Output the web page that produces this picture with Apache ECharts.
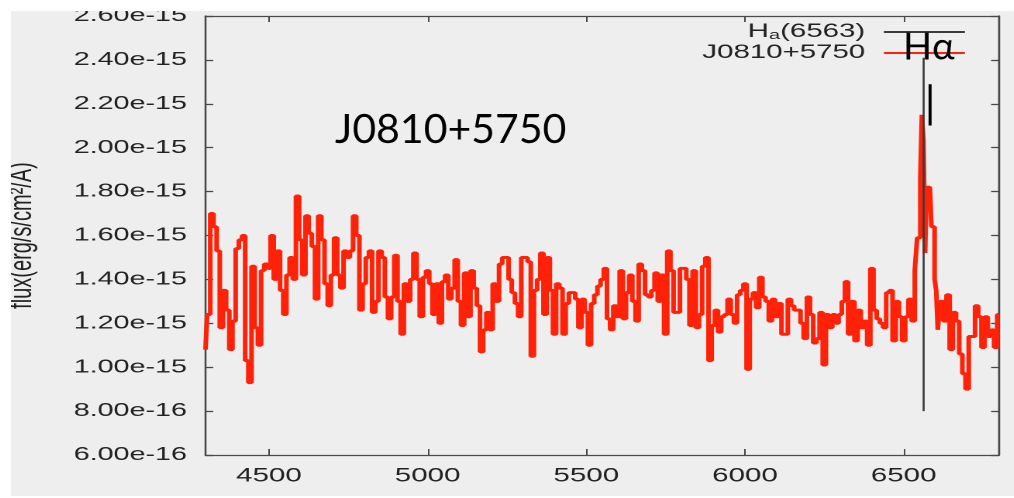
<!DOCTYPE html>
<html>
<head>
<meta charset="utf-8">
<script src="https://cdn.jsdelivr.net/npm/echarts@6/dist/echarts.min.js"></script>
<style>
  html, body { margin: 0; padding: 0; background: #ffffff; width: 1014px; height: 498px; overflow: hidden; }
  #frame { position: absolute; left: 11px; top: 11px; width: 1003px; height: 485px; background: #eeeeee; overflow: hidden; }
  #chart { position: absolute; left: 0; top: 0; height: 485px; transform-origin: 0 0; }
</style>
</head>
<body>
<div id="frame"><div id="chart"></div></div>
<script>
// Horizontal stretch of the gnuplot-style panel (text and lines are widened on the x direction)
const STRETCH = 1.55;
const FRAME_WIDTH = 1003;

// Flux values are stored in units of 1e-15 erg/s/cm^2/A
const FLUX_UNIT = 1e-15;

// Axis ranges and tick labels
const xMin = 4300, xMax = 6800;
const xTickValues = [4500, 5000, 5500, 6000, 6500];
const yMin = 0.6, yMax = 2.6, yStep = 0.2;

// Spectrum of J0810+5750, blue side: 4300..6540 A, 10 A bins
const blueStart = 4300, blueStep = 10;
const fluxBlue = [
  1.08, 1.24, 1.70, 1.64, 1.53, 1.18, 1.35, 1.26, 1.08, 1.21,
  1.54, 1.58, 1.60, 1.03, 0.93, 1.46, 1.18, 1.10, 1.44, 1.47,
  1.45, 1.60, 1.40, 1.53, 1.35, 1.24, 1.42, 1.50, 1.40, 1.78,
  1.58, 1.42, 1.69, 1.61, 1.55, 1.31, 1.69, 1.58, 1.38, 1.28,
  1.42, 1.59, 1.42, 1.36, 1.53, 1.50, 1.53, 1.69, 1.60, 1.26,
  1.38, 1.50, 1.53, 1.25, 1.30, 1.53, 1.50, 1.32, 1.22, 1.32,
  1.51, 1.30, 1.15, 1.38, 1.30, 1.40, 1.52, 1.40, 1.23, 1.41,
  1.44, 1.38, 1.24, 1.38, 1.20, 1.39, 1.42, 1.31, 1.36, 1.49,
  1.30, 1.19, 1.43, 1.23, 1.44, 1.36, 1.28, 1.07, 1.17, 1.25,
  1.17, 1.38, 1.30, 1.47, 1.50, 1.50, 1.40, 1.34, 1.29, 1.23,
  1.50, 1.50, 1.48, 1.05, 1.35, 1.40, 1.52, 1.24, 1.50, 1.35,
  1.15, 1.38, 1.36, 1.15, 1.29, 1.34, 1.34, 1.31, 1.18, 1.31,
  1.25, 1.10, 1.29, 1.33, 1.37, 1.40, 1.45, 1.22, 1.17, 1.28,
  1.23, 1.44, 1.22, 1.34, 1.42, 1.30, 1.21, 1.47, 1.44, 1.33,
  1.32, 1.35, 1.43, 1.30, 1.42, 1.15, 1.53, 1.44, 1.25, 1.25,
  1.45, 1.45, 1.40, 1.19, 1.44, 1.18, 1.24, 1.46, 1.50, 1.03,
  1.19, 1.26, 1.16, 1.23, 1.24, 1.31, 1.24, 1.20, 1.33, 1.35,
  1.38, 0.99, 1.31, 1.34, 1.27, 1.41, 1.32, 1.30, 1.21, 1.31,
  1.23, 1.29, 1.15, 1.15, 1.31, 1.28, 1.26, 1.26, 1.20, 1.13,
  1.32, 1.24, 1.11, 1.13, 1.25, 1.01, 1.24, 1.18, 1.24, 1.20,
  1.24, 1.30, 1.39, 1.15, 1.30, 1.12, 1.26, 1.18, 1.21, 1.10,
  1.45, 1.26, 1.22, 1.20, 1.18, 1.34, 1.35, 1.12, 1.30, 1.23,
  1.12, 1.23, 1.31, 1.21, 1.44
];

// H-alpha emission region: 6545..6605 A, 5 A bins
const lineStart = 6545, lineStep = 5;
const fluxLine = [1.59, 1.59, 1.87, 2.15, 2.03, 1.52, 1.82, 1.82, 1.82, 1.64, 1.64, 1.40, 1.35];

// Red side: 6610..6800 A, 10 A bins
const redStart = 6610, redStep = 10;
const fluxRed = [
  1.17, 1.30, 1.21, 1.33, 1.08, 1.25, 1.21, 1.06, 0.97, 0.90,
  1.14, 1.14, 1.28, 1.23, 1.09, 1.23, 1.14, 1.17, 1.09, 1.24
];

// Rest wavelength marker for H-alpha
const halphaWave = 6563;
const halphaFlux = [0.8, 2.41];

const objectName = 'J0810+5750';
const markerName = 'Ha(6563)';

function segment(start, step, values) {
  return values.map((v, i) => [start + i * step, v]);
}
const spectrum = [].concat(
  segment(blueStart, blueStep, fluxBlue),
  segment(lineStart, lineStep, fluxLine),
  segment(redStart, redStep, fluxRed)
);
const marker = halphaFlux.map(f => [halphaWave, f]);

const chartWidth = FRAME_WIDTH / STRETCH;
const el = document.getElementById('chart');
el.style.width = chartWidth + 'px';
el.style.transform = 'scaleX(' + STRETCH + ')';

const chart = echarts.init(el, null, { renderer: 'canvas', devicePixelRatio: 2 });

// x inside the frame -> unstretched chart x
const cx = px => px / STRETCH;

const axisColor = '#4a4a4a';
const textColor = '#222222';
const tickFont = 'Liberation Sans';
const red = '#ff2208';
const markerColor = '#3a3a3a';

const option = {
  animation: false,
  backgroundColor: 'transparent',
  grid: {
    left: cx(194.5),
    right: chartWidth - cx(988),
    top: 5,
    bottom: 41,
    containLabel: false,
    outerBoundsMode: 'none'
  },
  legend: {
    orient: 'vertical',
    align: 'right',
    right: chartWidth - cx(954),
    top: 11,
    padding: 0,
    itemWidth: cx(81),
    itemHeight: 2,
    itemGap: 1,
    data: [
      { name: markerName, icon: 'rect', itemStyle: { color: markerColor } },
      { name: objectName, icon: 'rect', itemStyle: { color: red } }
    ],
    formatter: name => name === markerName ? 'H{sub|a}(6563)' : name,
    textStyle: {
      fontFamily: tickFont,
      fontSize: 19,
      lineHeight: 20,
      color: textColor,
      padding: [0, 7, 0, 0],
      rich: {
        sub: { fontFamily: tickFont, fontSize: 13, lineHeight: 13, color: textColor, padding: [7, 0, 0, 0] }
      }
    }
  },
  xAxis: [
    {
      type: 'value',
      position: 'bottom',
      min: xMin,
      max: xMax,
      splitLine: { show: false },
      axisLine: { show: true, lineStyle: { color: axisColor, width: 1.3 } },
      axisTick: { show: true, inside: true, length: 6, customValues: xTickValues, lineStyle: { color: axisColor, width: 1 } },
      axisLabel: {
        customValues: xTickValues,
        margin: 12,
        fontFamily: tickFont,
        fontSize: 19,
        color: textColor,
        formatter: v => String(v)
      }
    },
    {
      type: 'value',
      position: 'top',
      min: xMin,
      max: xMax,
      splitLine: { show: false },
      axisLine: { show: true, lineStyle: { color: axisColor, width: 1.3 } },
      axisTick: { show: true, inside: true, length: 6, customValues: xTickValues, lineStyle: { color: axisColor, width: 1 } },
      axisLabel: { show: false }
    }
  ],
  yAxis: [
    {
      type: 'value',
      position: 'left',
      min: yMin,
      max: yMax,
      interval: yStep,
      splitLine: { show: false },
      axisLine: { show: true, lineStyle: { color: axisColor, width: 1.3 } },
      axisTick: { show: true, inside: true, length: 5, lineStyle: { color: axisColor, width: 1.3 } },
      axisLabel: {
        margin: 12,
        fontFamily: tickFont,
        fontSize: 18.5,
        color: textColor,
        formatter: v => (v * FLUX_UNIT).toExponential(2)
      },
      name: 'flux(erg/s/cm\u00B2/A)',
      nameLocation: 'middle',
      nameRotate: 90,
      nameGap: 108,
      nameTextStyle: { fontFamily: tickFont, fontSize: 20, color: textColor }
    },
    {
      type: 'value',
      position: 'right',
      min: yMin,
      max: yMax,
      interval: yStep,
      splitLine: { show: false },
      axisLine: { show: true, lineStyle: { color: axisColor, width: 1.3 } },
      axisTick: { show: true, inside: true, length: 5, lineStyle: { color: axisColor, width: 1.3 } },
      axisLabel: { show: false }
    }
  ],
  series: [
    {
      name: objectName,
      type: 'line',
      step: 'middle',
      symbol: 'none',
      showSymbol: false,
      data: spectrum,
      color: red,
      lineStyle: { color: red, width: 3 },
      z: 2
    },
    {
      name: markerName,
      type: 'line',
      symbol: 'none',
      showSymbol: false,
      data: marker,
      color: markerColor,
      lineStyle: { color: markerColor, width: 1.3 },
      z: 3
    }
  ],
  graphic: {
    elements: [
      {
        type: 'text',
        x: cx(324),
        y: 119,
        scaleX: 1 / STRETCH,
        z: 10,
        style: { text: objectName, fontFamily: 'Lato', fontSize: 41, fill: '#000000', align: 'left', verticalAlign: 'middle' }
      },
      {
        type: 'text',
        x: cx(892),
        y: 36,
        scaleX: 1 / STRETCH,
        z: 10,
        style: { text: 'H\u03B1', fontFamily: 'Lato', fontSize: 38, fill: '#000000', align: 'left', verticalAlign: 'middle' }
      },
      {
        type: 'text',
        x: cx(919),
        y: 93,
        scaleX: 1 / STRETCH,
        z: 10,
        style: { text: '|', fontFamily: 'Lato', fontSize: 44, fill: '#000000', align: 'center', verticalAlign: 'middle' }
      }
    ]
  }
};

chart.setOption(option);
</script>
</body>
</html>
